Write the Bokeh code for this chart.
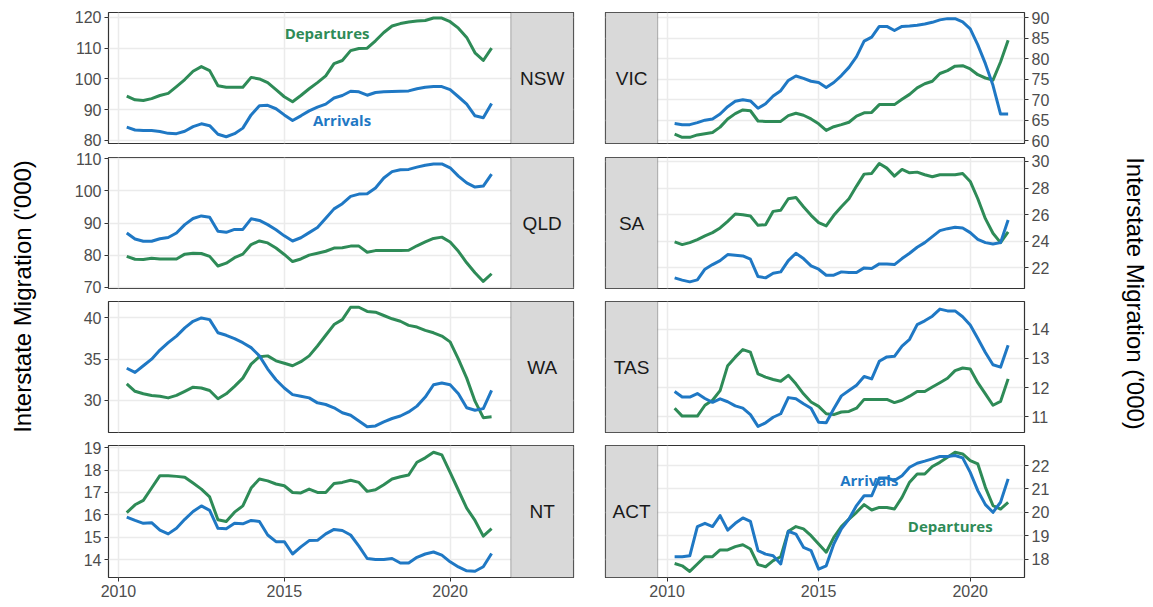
import math
from bokeh.plotting import figure
from bokeh.models import Range1d, FixedTicker, LinearAxis, Grid, BoxAnnotation, Label, ColumnDataSource
from bokeh.layouts import row, column
from bokeh.embed import file_html
from bokeh.resources import INLINE

quarters = [2010.25 + 0.25 * k for k in range(45)]

nsw_arr = [84.3, 83.4, 83.2, 83.2, 82.9, 82.3, 82.2, 83.0, 84.5, 85.4, 84.8, 82.0, 81.2, 82.2, 84.0,
           88.3, 91.3, 91.4, 90.3, 88.3, 86.5, 88.0, 89.6, 90.8, 91.8, 93.8, 94.6, 96.0, 95.8, 94.7,
           95.6, 95.8, 95.9, 96.0, 96.1, 96.8, 97.3, 97.5, 97.5, 96.5, 94.2, 91.8, 88.0, 87.4, 92.0]
nsw_dep = [94.4, 93.2, 93.0, 93.6, 94.6, 95.3, 97.5, 99.8, 102.5, 104.0, 102.7, 97.8, 97.3, 97.3, 97.3,
           100.5, 100.0, 98.8, 96.5, 94.2, 92.6, 94.6, 96.8, 98.8, 101.0, 105.0, 106.0, 109.2, 109.9, 110.0,
           112.4, 115.1, 117.2, 118.0, 118.5, 118.8, 119.0, 119.8, 119.8, 118.6, 116.5, 113.5, 108.5, 106.0, 110.0]
qld_arr = [86.9, 85.0, 84.3, 84.3, 85.1, 85.5, 86.9, 89.5, 91.4, 92.2, 91.8, 87.4, 87.1, 88.0, 88.0,
           91.3, 90.8, 89.5, 87.9, 86.0, 84.4, 85.4, 87.0, 88.6, 91.5, 94.4, 96.0, 98.3, 99.0, 99.1,
           100.9, 104.0, 106.0, 106.6, 106.7, 107.4, 108.0, 108.4, 108.4, 107.2, 104.6, 102.5, 101.2, 101.5, 105.2]
qld_dep = [79.6, 78.7, 78.6, 79.0, 78.8, 78.8, 78.8, 80.3, 80.6, 80.5, 79.6, 76.6, 77.5, 79.2, 80.3,
           83.3, 84.4, 83.8, 82.2, 80.2, 78.0, 78.8, 80.0, 80.6, 81.2, 82.2, 82.3, 82.8, 82.8, 80.9,
           81.4, 81.4, 81.4, 81.4, 81.5, 82.9, 84.1, 85.2, 85.6, 84.1, 81.2, 77.6, 74.5, 71.8, 74.2]
wa_arr = [33.9, 33.4, 34.2, 35.0, 36.1, 37.0, 37.8, 38.8, 39.6, 40.0, 39.8, 38.2, 37.9, 37.5, 37.0,
          36.4, 35.4, 33.8, 32.5, 31.5, 30.7, 30.5, 30.3, 29.7, 29.5, 29.1, 28.5, 28.2, 27.5, 26.8,
          26.9, 27.4, 27.8, 28.1, 28.6, 29.3, 30.4, 31.9, 32.1, 31.9, 30.8, 29.1, 28.8, 29.0, 31.2]
wa_dep = [32.0, 31.1, 30.8, 30.6, 30.5, 30.3, 30.6, 31.1, 31.6, 31.5, 31.2, 30.2, 30.8, 31.7, 32.7,
          34.4, 35.3, 35.4, 34.8, 34.5, 34.2, 34.7, 35.4, 36.6, 37.9, 39.2, 39.8, 41.3, 41.3, 40.8,
          40.7, 40.3, 39.9, 39.6, 39.1, 38.9, 38.5, 38.2, 37.8, 37.1, 35.0, 32.7, 29.9, 27.9, 28.0]
nt_arr = [15.9, 15.75, 15.62, 15.65, 15.32, 15.15, 15.4, 15.8, 16.15, 16.4, 16.2, 15.4, 15.38, 15.62, 15.6,
          15.75, 15.7, 15.1, 14.8, 14.8, 14.25, 14.57, 14.85, 14.86, 15.15, 15.35, 15.3, 15.1, 14.6, 14.05,
          14.0, 14.0, 14.05, 13.85, 13.85, 14.1, 14.25, 14.34, 14.2, 13.9, 13.67, 13.5, 13.48, 13.68, 14.27]
nt_dep = [16.1, 16.45, 16.65, 17.2, 17.75, 17.75, 17.72, 17.68, 17.42, 17.15, 16.8, 15.78, 15.7, 16.12, 16.4,
          17.2, 17.6, 17.52, 17.38, 17.3, 17.0, 16.98, 17.15, 17.0, 17.0, 17.4, 17.45, 17.55, 17.45, 17.05,
          17.12, 17.35, 17.6, 17.7, 17.78, 18.35, 18.55, 18.8, 18.68, 17.9, 17.1, 16.3, 15.75, 15.05, 15.38]
vic_arr = [64.2, 63.9, 63.9, 64.4, 65.0, 65.3, 66.5, 68.3, 69.6, 70.0, 69.7, 67.9, 69.0, 70.9, 72.2,
           74.7, 75.8, 75.2, 74.5, 74.2, 73.0, 74.2, 75.9, 77.9, 80.5, 84.3, 85.3, 87.9, 87.9, 86.9,
           87.9, 88.0, 88.2, 88.5, 88.9, 89.5, 89.8, 89.8, 89.0, 87.3, 83.4, 78.8, 73.5, 66.5, 66.5]
vic_dep = [61.6, 60.8, 60.8, 61.4, 61.7, 62.0, 63.3, 65.3, 66.6, 67.5, 67.3, 64.8, 64.7, 64.7, 64.7,
           66.1, 66.7, 66.2, 65.3, 64.1, 62.5, 63.4, 63.9, 64.5, 66.0, 66.8, 66.9, 68.8, 68.8, 68.8,
           70.1, 71.3, 72.9, 73.9, 74.5, 76.4, 77.1, 78.2, 78.3, 77.5, 76.1, 75.3, 74.8, 79.2, 84.5]
sa_arr = [21.25, 21.08, 20.95, 21.1, 21.9, 22.25, 22.55, 23.0, 22.95, 22.9, 22.65, 21.35, 21.25, 21.6, 21.7,
          22.55, 23.1, 22.7, 22.15, 21.9, 21.45, 21.45, 21.7, 21.65, 21.65, 22.0, 21.95, 22.3, 22.3, 22.25,
          22.7, 23.1, 23.55, 23.9, 24.35, 24.8, 24.95, 25.05, 25.0, 24.65, 24.15, 23.9, 23.8, 23.9, 25.6]
sa_dep = [23.95, 23.75, 23.9, 24.13, 24.4, 24.65, 25.0, 25.5, 26.05, 26.0, 25.9, 25.2, 25.25, 26.25, 26.33,
          27.2, 27.3, 26.6, 25.95, 25.4, 25.15, 25.95, 26.6, 27.2, 28.15, 29.05, 29.1, 29.85, 29.5, 28.9,
          29.4, 29.15, 29.2, 29.0, 28.85, 29.0, 29.0, 29.0, 29.1, 28.5, 27.2, 25.7, 24.6, 23.9, 24.7]
tas_arr = [11.87, 11.68, 11.68, 11.8, 11.63, 11.5, 11.62, 11.52, 11.38, 11.3, 11.08, 10.68, 10.8, 10.99, 11.11,
           11.66, 11.62, 11.45, 11.3, 10.82, 10.8, 11.28, 11.72, 11.9, 12.08, 12.38, 12.3, 12.9, 13.05, 13.07,
           13.42, 13.65, 14.15, 14.28, 14.44, 14.68, 14.62, 14.62, 14.42, 14.14, 13.68, 13.2, 12.78, 12.7, 13.45]
tas_dep = [11.3, 11.03, 11.03, 11.03, 11.4, 11.57, 11.9, 12.75, 13.04, 13.3, 13.21, 12.47, 12.36, 12.28, 12.22,
           12.42, 12.13, 11.79, 11.51, 11.36, 11.11, 11.08, 11.17, 11.19, 11.3, 11.6, 11.6, 11.6, 11.6, 11.49,
           11.57, 11.71, 11.87, 11.87, 12.02, 12.17, 12.32, 12.58, 12.67, 12.64, 12.17, 11.79, 11.4, 11.53, 12.3]
act_arr = [18.1, 18.1, 18.14, 19.39, 19.53, 19.39, 19.86, 19.24, 19.53, 19.76, 19.61, 18.36, 18.21, 18.14, 17.79,
           19.19, 19.07, 18.5, 18.36, 17.57, 17.71, 18.64, 19.29, 19.71, 20.29, 20.71, 20.71, 21.47, 21.47, 21.36,
           21.57, 21.93, 22.1, 22.19, 22.29, 22.39, 22.39, 22.43, 22.33, 21.71, 20.93, 20.33, 20.0, 20.43, 21.43]
act_dep = [17.81, 17.71, 17.47, 17.79, 18.1, 18.1, 18.39, 18.39, 18.53, 18.61, 18.43, 17.76, 17.67, 17.93, 18.1,
           19.19, 19.39, 19.29, 19.0, 18.64, 18.29, 18.93, 19.39, 19.71, 20.0, 20.33, 20.1, 20.21, 20.21, 20.14,
           20.64, 21.29, 21.64, 21.64, 21.96, 22.14, 22.36, 22.57, 22.5, 22.21, 22.07, 21.07, 20.29, 20.14, 20.43]

states_left = ["NSW", "QLD", "WA", "NT"]
states_right = ["VIC", "SA", "TAS", "ACT"]
x_ticks = [2010, 2015, 2020]
y_ticks = {
    "NSW": [80, 90, 100, 110, 120], "QLD": [70, 80, 90, 100, 110], "WA": [30, 35, 40],
    "NT": [14, 15, 16, 17, 18, 19], "VIC": [60, 65, 70, 75, 80, 85, 90], "SA": [22, 24, 26, 28, 30],
    "TAS": [11, 12, 13, 14], "ACT": [18, 19, 20, 21, 22],
}
y_limits = {
    "NSW": (79.0, 121.6), "QLD": (69.6, 110.4), "WA": (26.1, 42.0), "NT": (13.2, 19.1),
    "VIC": (59.3, 91.3), "SA": (20.45, 30.3), "TAS": (10.47, 14.94), "ACT": (17.21, 22.86),
}
series = {
    "NSW": (nsw_arr, nsw_dep), "QLD": (qld_arr, qld_dep), "WA": (wa_arr, wa_dep), "NT": (nt_arr, nt_dep),
    "VIC": (vic_arr, vic_dep), "SA": (sa_arr, sa_dep), "TAS": (tas_arr, tas_dep), "ACT": (act_arr, act_dep),
}

BLUE = "#1F78C4"
GREEN = "#2E8B57"
FONT = "Liberation Sans"
LABEL_FONT = "Open Sans"

TOPS = [12, 8, 4, 7]
FRAMES = [131, 131, 131, 132]
BOTTOMS = [6, 9, 6, 28]

LEFT_X = (2009.70, 2023.72)
LEFT_STRIP = 2021.83
RIGHT_X = (2007.97, 2021.79)
RIGHT_STRIP = 2009.69


def make_panel(state, side, r):
    bottom_row = r == 3
    if side == "left":
        xr = Range1d(*LEFT_X)
        bl, fw, br = 60, 465, 16
    else:
        xr = Range1d(*RIGHT_X)
        bl, fw, br = 16, 419, 40
    ylo, yhi = y_limits[state]
    height = TOPS[r] + FRAMES[r] + BOTTOMS[r]
    p = figure(width=bl + fw + br, height=height, x_range=xr, y_range=Range1d(ylo, yhi),
               x_axis_location=None, y_axis_location=None,
               output_backend="svg", toolbar_location=None,
               min_border_left=bl, min_border_right=br,
               min_border_top=TOPS[r], min_border_bottom=BOTTOMS[r])
    p.center = [c for c in p.center if not isinstance(c, Grid)]
    p.background_fill_color = "white"
    p.border_fill_color = "white"
    p.outline_line_color = "#333333"
    p.outline_line_width = 1.2

    xt = FixedTicker(ticks=x_ticks, minor_ticks=[])
    yt = FixedTicker(ticks=y_ticks[state], minor_ticks=[])
    p.add_layout(Grid(dimension=0, ticker=xt, grid_line_color="#EBEBEB", grid_line_width=1.5), "center")
    p.add_layout(Grid(dimension=1, ticker=yt, grid_line_color="#EBEBEB", grid_line_width=1.5), "center")

    yaxis = LinearAxis(ticker=yt, axis_line_color=None, major_tick_line_color="#333333",
                       major_tick_out=4, major_tick_in=0, minor_tick_line_color=None,
                       major_label_text_font=FONT, major_label_text_font_size="16px",
                       major_label_text_color="#4D4D4D", major_label_standoff=3)
    p.add_layout(yaxis, side)
    if bottom_row:
        xaxis = LinearAxis(ticker=xt, axis_line_color=None, major_tick_line_color="#333333",
                           major_tick_out=4, major_tick_in=0, minor_tick_line_color=None,
                           major_label_text_font=FONT, major_label_text_font_size="16px",
                           major_label_text_color="#4D4D4D", major_label_standoff=3)
        p.add_layout(xaxis, "below")

    arr, dep = series[state]
    src = ColumnDataSource(data=dict(x=quarters, arr=arr, dep=dep))
    p.line("x", "dep", source=src, line_color=GREEN, line_width=3, line_join="round")
    p.line("x", "arr", source=src, line_color=BLUE, line_width=3, line_join="round")

    if side == "left":
        strip = BoxAnnotation(left=LEFT_STRIP, fill_color="#D9D9D9", fill_alpha=1,
                              line_color="#333333", line_width=1.2)
        cx = (LEFT_STRIP + LEFT_X[1]) / 2
    else:
        strip = BoxAnnotation(right=RIGHT_STRIP, fill_color="#D9D9D9", fill_alpha=1,
                              line_color="#333333", line_width=1.2)
        cx = (RIGHT_X[0] + RIGHT_STRIP) / 2
    p.add_layout(strip)
    p.add_layout(Label(x=cx, y=(ylo + yhi) / 2, text=state, text_align="center",
                       text_baseline="middle", text_font=FONT, text_font_size="19px",
                       text_color="#1A1A1A"))
    return p


panels = {}
for r, s in enumerate(states_left):
    panels[s] = make_panel(s, "left", r)
for r, s in enumerate(states_right):
    panels[s] = make_panel(s, "right", r)

lab_kw = dict(text_font=LABEL_FONT, text_font_size="15px", text_font_style="bold",
              text_align="center", text_baseline="middle")
panels["NSW"].add_layout(Label(x=2016.29, y=114.8, text="Departures", text_color=GREEN, **lab_kw))
panels["NSW"].add_layout(Label(x=2016.74, y=86.5, text="Arrivals", text_color=BLUE, **lab_kw))
panels["ACT"].add_layout(Label(x=2016.67, y=21.4, text="Arrivals", text_color=BLUE, **lab_kw))
panels["ACT"].add_layout(Label(x=2019.34, y=19.42, text="Departures", text_color=GREEN, **lab_kw))

TOTAL_H = sum(TOPS) + sum(FRAMES) + sum(BOTTOMS)
TITLE = "Interstate Migration ('000)"


def title_fig(width, cx, cy, angle):
    t = figure(width=width, height=TOTAL_H, x_range=Range1d(0, width), y_range=Range1d(0, TOTAL_H),
               x_axis_location=None, y_axis_location=None, output_backend="svg",
               toolbar_location=None, min_border=0)
    t.grid.visible = False
    t.outline_line_color = None
    t.add_layout(Label(x=cx, y=cy, text=TITLE, angle=angle, text_align="center",
                       text_baseline="middle", text_font=FONT, text_font_size="24px",
                       text_color="black"))
    return t


left_title = title_fig(48, 22, TOTAL_H - 296, math.pi / 2)
right_title = title_fig(88, 71, TOTAL_H - 293, -math.pi / 2)

layout = row(left_title,
             column(*[panels[s] for s in states_left]),
             column(*[panels[s] for s in states_right]),
             right_title)

open("out.html", "w").write(file_html(layout, INLINE))
